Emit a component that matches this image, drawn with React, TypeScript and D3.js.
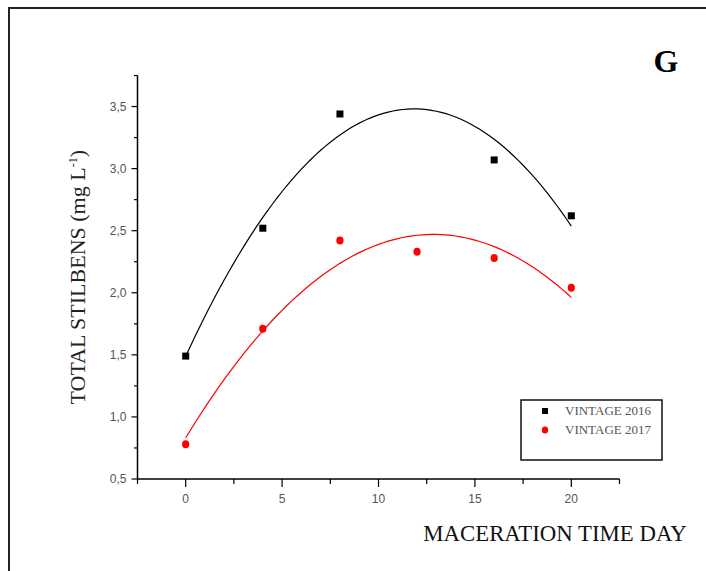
import React from "react";
import * as d3 from "d3";

const days2016 = [0, 4, 8, 16, 20];
const values2016 = [1.49, 2.52, 3.44, 3.07, 2.62];
const days2017 = [0, 4, 8, 12, 16, 20];
const values2017 = [0.78, 1.71, 2.42, 2.33, 2.28, 2.04];
const xMajorTicks = [0, 5, 10, 15, 20];
const yMajorTicks = [0.5, 1.0, 1.5, 2.0, 2.5, 3.0, 3.5];
const legendLabels = ["VINTAGE 2016", "VINTAGE 2017"];

// least squares quadratic fit
function quadFit(xs: number[], ys: number[]) {
  const S = (p: number) => d3.sum(xs, (x) => Math.pow(x, p));
  const Sy = (p: number) => d3.sum(xs, (x, i) => Math.pow(x, p) * ys[i]);
  const M = [
    [S(0), S(1), S(2), Sy(0)],
    [S(1), S(2), S(3), Sy(1)],
    [S(2), S(3), S(4), Sy(2)],
  ];
  for (let i = 0; i < 3; i++) {
    for (let k = i + 1; k < 3; k++) {
      const f = M[k][i] / M[i][i];
      for (let j = i; j < 4; j++) M[k][j] -= f * M[i][j];
    }
  }
  const c = [0, 0, 0];
  for (let i = 2; i >= 0; i--) {
    let s = M[i][3];
    for (let j = i + 1; j < 3; j++) s -= M[i][j] * c[j];
    c[i] = s / M[i][i];
  }
  return (x: number) => c[0] + c[1] * x + c[2] * x * x;
}

export default function App() {
  const W = 706, H = 571;
  const x = d3.scaleLinear().domain([-2.5, 22.5]).range([137.5, 619.5]);
  const y = d3.scaleLinear().domain([0.5, 3.75]).range([479, 75.5]);

  const xMinor = d3.range(-2.5, 22.51, 2.5).filter((v) => !xMajorTicks.includes(v));
  const yMinor = d3.range(0.75, 3.76, 0.5);

  const fit16 = quadFit(days2016, values2016);
  const fit17 = quadFit(days2017, values2017);
  const samples = d3.range(0, 20.001, 0.25);
  const line = d3
    .line<number>()
    .x((d) => x(d))
    .curve(d3.curveLinear);
  const path16 = line.y((d) => y(fit16(d)))(samples) || "";
  const path17 = line.y((d) => y(fit17(d)))(samples) || "";

  const fmt = (v: number) => v.toFixed(1).replace(".", ",");
  const tickFont = "'Liberation Sans', Arial, sans-serif";
  const serif = "'Liberation Serif', 'Times New Roman', serif";

  return (
    <svg
      width={W}
      height={H}
      style={{ position: "absolute", left: 0, top: 0, background: "#fff" }}
    >
      {/* outer frame */}
      <path d={`M9,${H + 2} L9,8 L${W + 2},8`} fill="none" stroke="#222" strokeWidth={2} />

      {/* panel letter */}
      <text x={666} y={72} fontFamily={serif} fontWeight="bold" fontSize={32} textAnchor="middle" fill="#000">
        G
      </text>

      {/* axes */}
      <line x1={x(-2.5)} x2={x(-2.5)} y1={y(3.75)} y2={y(0.5)} stroke="#000" strokeWidth={1.5} />
      <line x1={x(-2.5)} x2={x(22.5)} y1={y(0.5)} y2={y(0.5)} stroke="#000" strokeWidth={1.5} />

      {/* y ticks */}
      {yMajorTicks.map((v) => (
        <g key={"ym" + v}>
          <line x1={x(-2.5) - 6} x2={x(-2.5)} y1={y(v)} y2={y(v)} stroke="#000" strokeWidth={1.2} />
          <text x={x(-2.5) - 11} y={y(v) + 4} fontFamily={tickFont} fontSize={12} textAnchor="end" fill="#555">
            {fmt(v)}
          </text>
        </g>
      ))}
      {yMinor.map((v) => (
        <line key={"yn" + v} x1={x(-2.5) - 3.5} x2={x(-2.5)} y1={y(v)} y2={y(v)} stroke="#000" strokeWidth={1.2} />
      ))}

      {/* x ticks */}
      {xMajorTicks.map((v) => (
        <g key={"xm" + v}>
          <line x1={x(v)} x2={x(v)} y1={y(0.5)} y2={y(0.5) + 8} stroke="#000" strokeWidth={1.2} />
          <text x={x(v)} y={503} fontFamily={tickFont} fontSize={12} textAnchor="middle" fill="#555">
            {v}
          </text>
        </g>
      ))}
      {xMinor.map((v) => (
        <line key={"xn" + v} x1={x(v)} x2={x(v)} y1={y(0.5)} y2={y(0.5) + 5} stroke="#000" strokeWidth={1.2} />
      ))}

      {/* axis titles */}
      <text x={555} y={541} fontFamily={serif} fontSize={22.8} textAnchor="middle" fill="#111">
        MACERATION TIME DAY
      </text>
      <text
        transform={`translate(85,${(y(0.5) + y(3.75)) / 2}) rotate(-90)`}
        fontFamily={serif}
        fontSize={22}
        textAnchor="middle"
        fill="#222"
      >
        TOTAL STILBENS (mg L
        <tspan dy={-8} fontSize={12}>-1</tspan>
        <tspan dy={8}>)</tspan>
      </text>

      {/* fit curves */}
      <path d={path16} fill="none" stroke="#000" strokeWidth={1.2} />
      <path d={path17} fill="none" stroke="#ff0000" strokeWidth={1.2} />

      {/* points */}
      {days2016.map((d, i) => (
        <rect key={"p16" + i} x={x(d) - 3.5} y={y(values2016[i]) - 3.5} width={7} height={7} fill="#000" />
      ))}
      {days2017.map((d, i) => (
        <ellipse key={"p17" + i} cx={x(d)} cy={y(values2017[i])} rx={3.6} ry={4} fill="#ff0000" />
      ))}

      {/* legend */}
      <rect x={521} y={400} width={141} height={60} fill="#fff" stroke="#111" strokeWidth={1.5} />
      <rect x={542} y={408} width={6} height={6} fill="#000" />
      <ellipse cx={545} cy={430} rx={3.2} ry={3.6} fill="#ff0000" />
      <text x={565} y={415} fontFamily={serif} fontSize={13} fill="#555">
        {legendLabels[0]}
      </text>
      <text x={565} y={434} fontFamily={serif} fontSize={13} fill="#555">
        {legendLabels[1]}
      </text>
    </svg>
  );
}
